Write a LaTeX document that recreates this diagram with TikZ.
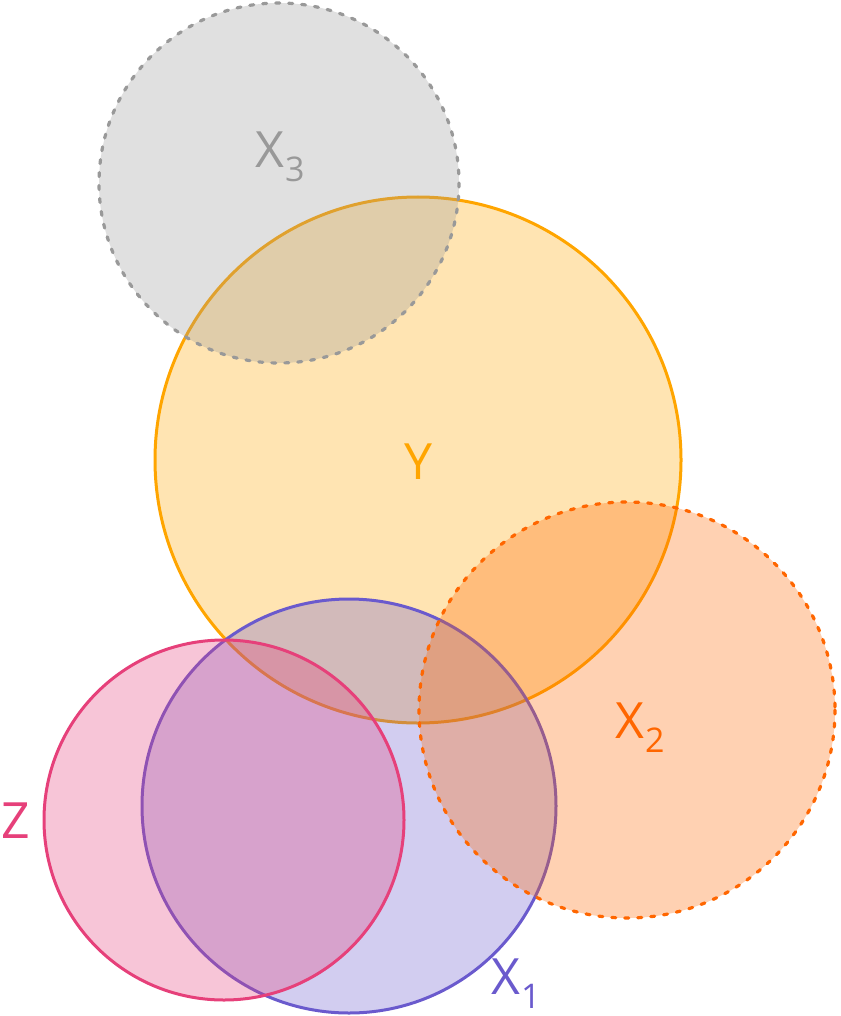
\documentclass[tikz,border=0pt]{standalone}
\usepackage{fontspec}
\setmainfont{Open Sans}
\definecolor{cY}{HTML}{FFA500}
\definecolor{cXthree}{HTML}{999999}
\definecolor{cXtwo}{HTML}{FF6600}
\definecolor{cXone}{HTML}{6A5ACD}
\definecolor{cZ}{HTML}{E6407A}
\newcommand{\lbl}[2]{#1\kern0.02em\raisebox{-0.28em}{\fontsize{34}{34}\selectfont #2}}
\tikzset{
  venn/.style={line width=3pt, fill opacity=0.3},
  dotted ring/.style={line width=3.2pt, dash pattern=on 4pt off 9pt, line cap=round},
  lab/.style={font=\fontsize{50}{50}\selectfont, inner sep=0pt},
}
\begin{document}
\begin{tikzpicture}[x=1pt,y=-1pt]
\useasboundingbox (0,0) rectangle (840,1016);
\draw[venn, draw=cY, fill=cY] (418,460) circle[radius=263];
\draw[venn, draw=cXthree, fill=cXthree, dotted ring] (279,183) circle[radius=180];
\draw[venn, draw=cXone, fill=cXone] (349,806) circle[radius=207];
\draw[venn, draw=cXtwo, fill=cXtwo, dotted ring] (627,710) circle[radius=208];
\draw[venn, draw=cZ, fill=cZ] (224,820) circle[radius=180];
\node[lab, text=cXthree] (lx3) at (280,157) {\lbl{X}{3}};
\node[lab, text=cY] (ly) at (418,462) {Y};
\node[lab, text=cXtwo] (lx2) at (640,728) {\lbl{X}{2}};
\node[lab, text=cZ] (lz) at (16,821) {Z};
\node[lab, text=cXone] (lx1) at (516,984) {\lbl{X}{1}};
\end{tikzpicture}
\end{document}
